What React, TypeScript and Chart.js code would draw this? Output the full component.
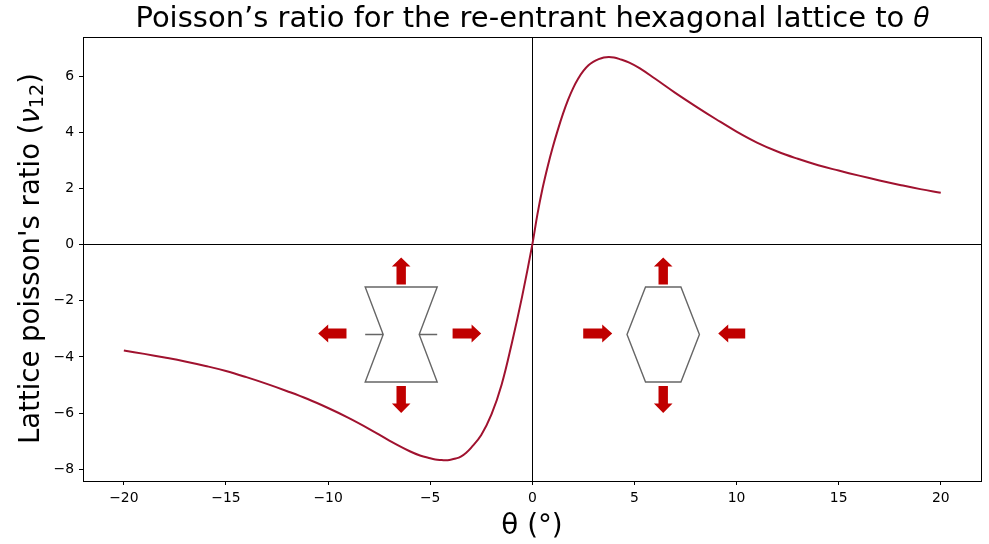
import React, { useEffect, useRef } from "react";
import { Chart, registerables } from "chart.js";

Chart.register(...registerables);

const titleText = "Poisson’s ratio for the re-entrant hexagonal lattice to 𝜃";
const xLabel = "θ (°)";
const yLabelParts = ["Lattice poisson's ratio (", "ν", "12", ")"];

const thetaDeg = [-20, -19, -18, -17, -16, -15, -14, -13, -12, -11, -10, -9, -8, -7, -6, -5.5, -5, -4.75, -4.5, -4.25, -4, -3.75, -3.5, -3.25, -3, -2.5, -2, -1.5, -1, -0.5, 0, 0.25, 0.5, 0.75, 1, 1.25, 1.5, 1.75, 2, 2.25, 2.5, 2.75, 3, 3.25, 3.5, 3.75, 4, 4.25, 4.75, 5.25, 6, 7, 8, 9, 10, 11, 12, 13, 14, 15, 16, 17, 18, 19, 20];
const poissonRatio = [-3.77, -3.89, -4.02, -4.16, -4.32, -4.5, -4.72, -4.96, -5.22, -5.5, -5.82, -6.17, -6.56, -6.98, -7.36, -7.51, -7.61, -7.65, -7.67, -7.68, -7.66, -7.62, -7.55, -7.42, -7.24, -6.78, -6.05, -4.98, -3.5, -1.85, 0, 1.08, 2.0, 2.78, 3.47, 4.09, 4.66, 5.16, 5.58, 5.92, 6.19, 6.39, 6.52, 6.61, 6.67, 6.69, 6.67, 6.62, 6.49, 6.29, 5.92, 5.41, 4.93, 4.47, 4.03, 3.64, 3.32, 3.06, 2.83, 2.64, 2.46, 2.29, 2.13, 1.98, 1.85];

const iconCentres = [
  { theta: -6.42, nu: -3.2, reentrant: true },
  { theta: 6.41, nu: -3.2, reentrant: false },
];

const FONT = "'DejaVu Sans'";

const frameAndIcons = {
  id: "frameAndIcons",
  afterDatasetsDraw(chart: any) {
    const { ctx, chartArea: a, scales } = chart;
    ctx.save();
    ctx.strokeStyle = "#000";
    ctx.lineWidth = 1;
    ctx.strokeRect(Math.round(a.left) + 0.5, Math.round(a.top) + 0.5, Math.round(a.right - a.left), Math.round(a.bottom - a.top));

    const poly = (cx: number, cy: number, pts: number[][]) => {
      ctx.beginPath();
      pts.forEach(([x, y], i) => (i ? ctx.lineTo(cx + x, cy + y) : ctx.moveTo(cx + x, cy + y)));
      ctx.closePath();
      ctx.fill();
    };
    const vArrow = (cx: number, cy: number, tip: number, head: number, end: number) =>
      poly(cx, cy, [[0, tip], [9.3, head], [4.7, head], [4.7, end], [-4.7, end], [-4.7, head], [-9.3, head]]);
    const hArrow = (cx: number, cy: number, tip: number, head: number, end: number) =>
      poly(cx, cy - 1, [[tip, 0], [head, 9], [head, 5], [end, 5], [end, -5], [head, -5], [head, -9]]);

    iconCentres.forEach((c) => {
      const cx = scales.x.getPixelForValue(c.theta);
      const cy = scales.y.getPixelForValue(c.nu);
      ctx.filter = "blur(0.5px)";
      ctx.strokeStyle = "#666";
      ctx.lineWidth = 1.4;
      ctx.beginPath();
      if (c.reentrant) {
        ctx.moveTo(cx - 36, cy - 47.5);
        ctx.lineTo(cx + 36, cy - 47.5);
        ctx.lineTo(cx + 18, cy);
        ctx.lineTo(cx + 36, cy + 47.5);
        ctx.lineTo(cx - 36, cy + 47.5);
        ctx.lineTo(cx - 18, cy);
        ctx.closePath();
        ctx.moveTo(cx - 36, cy);
        ctx.lineTo(cx - 18, cy);
        ctx.moveTo(cx + 18, cy);
        ctx.lineTo(cx + 36, cy);
      } else {
        ctx.moveTo(cx - 17.7, cy - 47.5);
        ctx.lineTo(cx + 17.7, cy - 47.5);
        ctx.lineTo(cx + 36.2, cy);
        ctx.lineTo(cx + 17.7, cy + 47.5);
        ctx.lineTo(cx - 17.7, cy + 47.5);
        ctx.lineTo(cx - 36.2, cy);
        ctx.closePath();
      }
      ctx.stroke();
      ctx.fillStyle = "#C00000";
      vArrow(cx, cy, -77, -68, -50);
      vArrow(cx, cy, 78.5, 69, 51.5);
      if (c.reentrant) {
        hArrow(cx, cy, -83, -73, -54.7);
        hArrow(cx, cy, 80, 70.4, 51.4);
      } else {
        hArrow(cx, cy, -51, -61, -80);
        hArrow(cx, cy, 55, 65, 82);
      }
      ctx.filter = "none";
    });

    // y axis label: mixed roman, italic and subscript runs
    const size = 27.5;
    const runs = [
      { t: yLabelParts[0], f: `${size}px ${FONT}`, dy: 0 },
      { t: yLabelParts[1], f: `italic ${size}px ${FONT}`, dy: 0 },
      { t: yLabelParts[2], f: `${size * 0.7}px ${FONT}`, dy: size * 0.16 },
      { t: yLabelParts[3], f: `${size}px ${FONT}`, dy: 0 },
    ];
    let total = 0;
    runs.forEach((r) => {
      ctx.font = r.f;
      total += ctx.measureText(r.t).width;
    });
    ctx.translate(38.5, (a.top + a.bottom) / 2 - 0.5);
    ctx.rotate(-Math.PI / 2);
    ctx.fillStyle = "#000";
    ctx.textBaseline = "alphabetic";
    ctx.textAlign = "left";
    let px = -total / 2;
    runs.forEach((r) => {
      ctx.font = r.f;
      ctx.fillText(r.t, px, r.dy);
      px += ctx.measureText(r.t).width;
    });
    ctx.restore();
  },
};

export default function App() {
  const ref = useRef<HTMLCanvasElement>(null);
  useEffect(() => {
    const zeroGrid = (c: any) => (c.tick && c.tick.value === 0 ? "#000" : "rgba(0,0,0,0)");
    const tickFmt = (v: any) => String(v).replace("-", "−");
    const chart = new Chart(ref.current!, {
      type: "scatter",
      data: {
        datasets: [
          {
            label: "Poisson's ratio",
            data: thetaDeg.map((x, i) => ({ x, y: poissonRatio[i] })),
            showLine: true,
            borderColor: "#A0122F",
            borderWidth: 2,
            pointRadius: 0,
            tension: 0.4,
          } as any,
        ],
      },
      plugins: [frameAndIcons],
      options: {
        responsive: false,
        animation: false,
        devicePixelRatio: 1,
        layout: { padding: { top: 0, right: 8, bottom: 0, left: 0 } },
        plugins: {
          legend: { display: false },
          tooltip: { enabled: false },
          title: {
            display: true,
            fullSize: false,
            text: titleText,
            color: "#000",
            font: { family: FONT, size: 29, weight: "normal", lineHeight: 1.2 },
            padding: { top: 2, bottom: 0.2 },
          },
        },
        scales: {
          x: {
            type: "linear",
            min: -22,
            max: 21.97,
            afterFit: (s: any) => { s.height = 63; },
            ticks: { stepSize: 5, includeBounds: false, color: "#000", font: { family: FONT, size: 13.9 }, padding: 5, maxRotation: 0, callback: tickFmt },
            grid: { color: zeroGrid, tickColor: "#000", tickLength: 4, lineWidth: 1 },
            border: { display: false },
            title: { display: true, text: xLabel, color: "#000", font: { family: FONT, size: 27.8 }, padding: { top: 0, bottom: 1 } },
          },
          y: {
            type: "linear",
            min: -8.42,
            max: 7.4,
            afterFit: (s: any) => { s.width = 83; },
            ticks: { stepSize: 2, includeBounds: false, color: "#000", font: { family: FONT, size: 13.9 }, padding: 5, callback: tickFmt },
            grid: { color: zeroGrid, tickColor: "#000", tickLength: 4, lineWidth: 1 },
            border: { display: false },
          },
        },
      } as any,
    });
    return () => chart.destroy();
  }, []);
  return <canvas ref={ref} width={989} height={544} style={{ position: "absolute", left: 0, top: 0, display: "block" }} />;
}
